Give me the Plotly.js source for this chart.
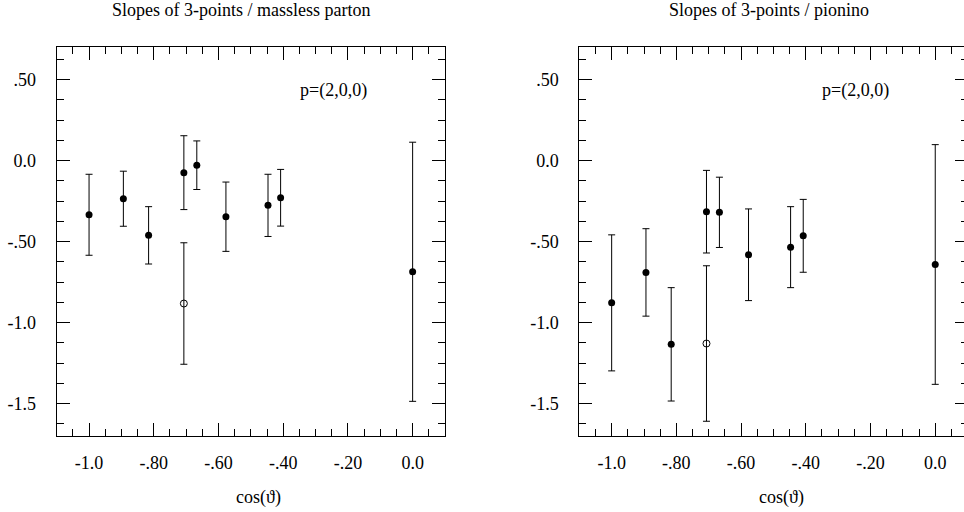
<!DOCTYPE html>
<html>
<head>
<meta charset="utf-8">
<script src="https://cdn.plot.ly/plotly-3.0.1.min.js"></script>
<style>
html, body { margin: 0; padding: 0; overflow: hidden; background: #fff; }
#chart { width: 970px; height: 512px; }
</style>
</head>
<body>
<div id="chart"></div>
<script>
// cos(theta) positions
const cosTheta = [-1.0, -0.894, -0.816, -0.707, -0.667, -0.577, -0.447, -0.408, 0.0];

// Left panel: massless parton (filled points)
const partonSlope = [-0.334, -0.235, -0.461, -0.074, -0.028, -0.346, -0.276, -0.229, -0.686];
const partonErr   = [0.250, 0.170, 0.177, 0.228, 0.150, 0.214, 0.192, 0.175, 0.800];
// Left panel: open point
const partonOpenX   = [-0.707];
const partonOpenY   = [-0.882];
const partonOpenErr = [0.375];

// Right panel: pionino (filled points)
const pioninoSlope = [-0.878, -0.690, -1.134, -0.315, -0.319, -0.581, -0.534, -0.464, -0.641];
const pioninoErr   = [0.420, 0.270, 0.350, 0.255, 0.217, 0.283, 0.250, 0.225, 0.740];
// Right panel: open point
const pioninoOpenX   = [-0.707];
const pioninoOpenY   = [-1.129];
const pioninoOpenErr = [0.480];

// Tick labels
const xTickVals = [-1.0, -0.8, -0.6, -0.4, -0.2, 0.0];
const xTickText = ["-1.0", "-.80", "-.60", "-.40", "-.20", "0.0"];
const yTickVals = [0.5, 0.0, -0.5, -1.0, -1.5];
const yTickText = [".50", "0.0", "-.50", "-1.0", "-1.5"];

const panelTitles = ["Slopes of 3-points / massless parton", "Slopes of 3-points / pionino"];
const xTitle = "cos(\u03D1)";
const momentumLabel = "p=(2,0,0)";

const FONT = "Liberation Serif";
const W = 970, H = 512;

function errTrace(x, y, err, xa, ya, open) {
  return {
    type: "scatter", mode: "markers", x: x, y: y, xaxis: xa, yaxis: ya,
    marker: open
      ? { symbol: "circle-open", size: 7, color: "#000", line: { width: 1, color: "#000" } }
      : { symbol: "circle", size: 7, color: "#000" },
    error_y: { type: "data", array: err, visible: true, color: "#000", thickness: 1, width: 3.5 },
    showlegend: false, hoverinfo: "x+y"
  };
}

const data = [
  errTrace(cosTheta, partonSlope, partonErr, "x", "y", false),
  errTrace(partonOpenX, partonOpenY, partonOpenErr, "x", "y", true),
  errTrace(cosTheta, pioninoSlope, pioninoErr, "x2", "y2", false),
  errTrace(pioninoOpenX, pioninoOpenY, pioninoOpenErr, "x2", "y2", true)
];

function xAxis(domain, anchor) {
  return {
    domain: domain, anchor: anchor, range: [-1.1, 0.1],
    tickmode: "array", tickvals: xTickVals, ticktext: xTickText,
    ticks: "inside", ticklen: 13, tickwidth: 1, tickcolor: "#000",
    minor: { dtick: 0.05, tick0: 0, ticks: "inside", ticklen: 7, tickwidth: 1, tickcolor: "#000" },
    showline: true, linecolor: "#000", linewidth: 1, mirror: "ticks",
    showgrid: false, zeroline: false, ticklabelstandoff: 10,
    tickfont: { family: FONT, size: 18, color: "#000" }
  };
}
function yAxis(domain, anchor) {
  return {
    domain: domain, anchor: anchor, range: [-1.7, 0.7],
    tickmode: "array", tickvals: yTickVals, ticktext: yTickText,
    ticks: "inside", ticklen: 13, tickwidth: 1, tickcolor: "#000",
    minor: { dtick: 0.125, tick0: 0, ticks: "inside", ticklen: 7, tickwidth: 1, tickcolor: "#000" },
    showline: true, linecolor: "#000", linewidth: 1, mirror: "ticks",
    showgrid: false, zeroline: false, ticklabelstandoff: 16,
    tickfont: { family: FONT, size: 18, color: "#000" }
  };
}

const yDom = [76 / H, 464.7 / H];
const layout = {
  width: W, height: H,
  margin: { l: 0, r: 0, t: 0, b: 0 },
  paper_bgcolor: "#fff", plot_bgcolor: "#fff",
  font: { family: FONT, size: 18, color: "#000" },
  xaxis: xAxis([56.7 / W, 445 / W], "y"),
  yaxis: yAxis(yDom, "x"),
  xaxis2: xAxis([579.3 / W, 967.6 / W], "y2"),
  yaxis2: yAxis(yDom, "x2"),
  annotations: [
    { text: panelTitles[0], xref: "paper", yref: "paper", x: 241.5 / W, y: 1 - 10 / H,
      xanchor: "center", yanchor: "middle", showarrow: false, font: { family: FONT, size: 18, color: "#000" } },
    { text: panelTitles[1], xref: "paper", yref: "paper", x: 769 / W, y: 1 - 10 / H,
      xanchor: "center", yanchor: "middle", showarrow: false, font: { family: FONT, size: 18, color: "#000" } },
    { text: xTitle, xref: "paper", yref: "paper", x: 258.5 / W, y: 1 - 497 / H,
      xanchor: "center", yanchor: "middle", showarrow: false, font: { family: FONT, size: 18, color: "#000" } },
    { text: xTitle, xref: "paper", yref: "paper", x: 781.8 / W, y: 1 - 497 / H,
      xanchor: "center", yanchor: "middle", showarrow: false, font: { family: FONT, size: 18, color: "#000" } },
    { text: momentumLabel, xref: "x", yref: "y", x: -0.245, y: 0.432,
      xanchor: "center", yanchor: "middle", showarrow: false, font: { family: FONT, size: 18, color: "#000" } },
    { text: momentumLabel, xref: "x2", yref: "y2", x: -0.246, y: 0.432,
      xanchor: "center", yanchor: "middle", showarrow: false, font: { family: FONT, size: 18, color: "#000" } }
  ]
};

Plotly.newPlot("chart", data, layout, { staticPlot: true, displayModeBar: false });
</script>
</body>
</html>
